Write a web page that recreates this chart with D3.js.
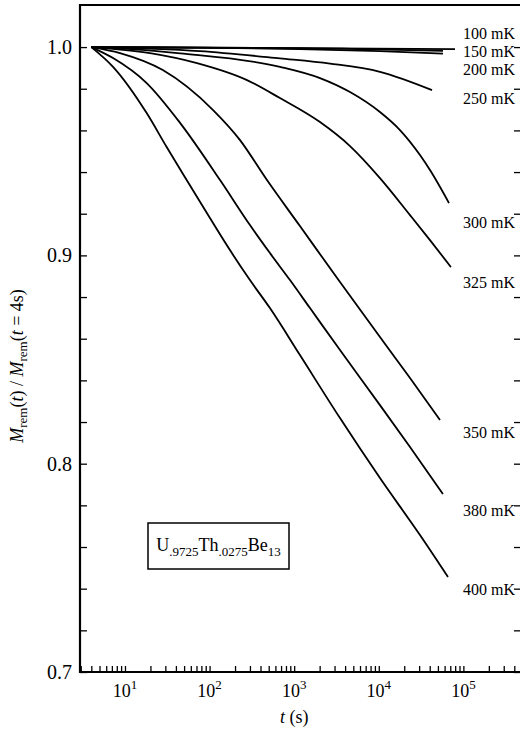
<!DOCTYPE html>
<html>
<head>
<meta charset="utf-8">
<script src="https://cdn.jsdelivr.net/npm/d3@7"></script>
<style>
  html, body { margin: 0; padding: 0; background: #fff; }
  svg { display: block; font-family: "Liberation Serif", "Times New Roman", serif; }
</style>
</head>
<body>
<svg id="chart" width="522" height="730"></svg>
<script>
// Remanent magnetisation relaxation of U(.9725)Th(.0275)Be13,
// normalised to its value at t = 4 s, for several temperatures.
const temperatures = ["100 mK", "150 mK", "200 mK", "250 mK", "300 mK", "325 mK", "350 mK", "380 mK", "400 mK"];

const time100 = [4, 79600];
const mrem100 = [1.0, 0.9990];

const time150 = [4, 1170, 57400];
const mrem150 = [1.0, 0.99952, 0.99818];

const time200 = [4, 77, 1170, 10330, 57400];
const mrem200 = [1.0, 0.99976, 0.99904, 0.99808, 0.99688];

const time250 = [4, 77, 679, 2650, 10330, 42600];
const mrem250 = [1.0, 0.99808, 0.99458, 0.99208, 0.98814, 0.97936];

const time300 = [4, 11.5, 45, 679, 2020, 4570, 10330, 17800, 30700, 40300, 67600];
const mrem300 = [1.0, 0.99904, 0.99698, 0.99054, 0.98512, 0.97840, 0.96880, 0.96015, 0.94815, 0.94095, 0.92511];

const time325 = [4, 19.75, 71, 277, 679, 2020, 4570, 10330, 23400, 40300, 71300];
const mrem325 = [1.0, 0.99712, 0.99232, 0.98416, 0.97552, 0.96399, 0.95247, 0.93711, 0.91935, 0.90735, 0.89438];

const time350 = [4, 8.73, 28, 110, 229, 477, 1170, 3480, 10330, 23400, 52900];
const mrem350 = [1.0, 0.99712, 0.98896, 0.96976, 0.95535, 0.93615, 0.91407, 0.88718, 0.86078, 0.84110, 0.82093];

const time380 = [4, 7.23, 18.05, 45, 133, 300, 517, 892, 1538, 3480, 10330, 23400, 57400];
const mrem380 = [1.0, 0.99472, 0.98272, 0.96351, 0.93615, 0.91455, 0.90110, 0.88814, 0.87470, 0.85454, 0.82813, 0.80797, 0.78541];

const time400 = [4, 7.27, 18.05, 31.1, 53.6, 101, 174, 300, 517, 1170, 3480, 10330, 30700, 65800];
const mrem400 = [1.0, 0.99040, 0.96831, 0.95199, 0.93615, 0.91791, 0.90254, 0.88814, 0.87470, 0.85214, 0.82189, 0.79309, 0.76572, 0.74556];

const yTickValues = [0.7, 0.8, 0.9, 1.0];
const yTickLabels = ["0.7", "0.8", "0.9", "1.0"];
const xDecades = [1, 2, 3, 4, 5];
const xDecadeLabels = ["1", "2", "3", "4", "5"];
const sampleName = [["U", ".9725"], ["Th", ".0275"], ["Be", "13"]];

const times = [time100, time150, time200, time250, time300, time325, time350, time380, time400];
const mrems = [mrem100, mrem150, mrem200, mrem250, mrem300, mrem325, mrem350, mrem380, mrem400];

(function draw() {
  const left = 80, right = 520, plotTop = 5, plotBottom = 672;
  const svg = d3.select("#chart");

  const x = d3.scaleLog().domain([2.94, 4.67e5]).range([left, right]);
  const y = d3.scaleLinear().domain([0.7, 1.0202]).range([plotBottom, plotTop]);

  // log ticks: every integer multiple inside each decade
  const xTicks = [];
  for (let d = 0; d <= 5; d++) {
    for (let k = 1; k <= 9; k++) {
      const v = k * Math.pow(10, d);
      if (v >= x.domain()[0] && v <= x.domain()[1]) xTicks.push(v);
    }
  }
  const yTicks = d3.range(35, 51).map(i => i / 50);

  const tickStyle = g => {
    g.select(".domain").remove();
    g.selectAll(".tick line").attr("stroke", "#000").attr("stroke-width", 1.3);
  };

  svg.append("g")
    .attr("transform", `translate(0,${plotBottom})`)
    .call(d3.axisBottom(x).tickValues(xTicks).tickSize(-6).tickFormat(""))
    .call(tickStyle);

  svg.append("g")
    .attr("transform", `translate(${left},0)`)
    .call(d3.axisLeft(y).tickValues(yTicks).tickSize(-7).tickFormat(""))
    .call(tickStyle);

  svg.append("g")
    .attr("transform", `translate(${right},0)`)
    .call(d3.axisRight(y).tickValues(yTicks).tickSize(-6).tickFormat(""))
    .call(tickStyle);

  // frame: top, left and bottom edges
  svg.append("path")
    .attr("d", `M${right},${plotTop}H${left}V${plotBottom}H${right}`)
    .attr("fill", "none")
    .attr("stroke", "#000")
    .attr("stroke-width", 2.2);

  // y tick labels
  svg.append("g").selectAll("text")
    .data(yTickValues)
    .join("text")
    .attr("x", left - 8)
    .attr("y", d => y(d) + 7)
    .attr("text-anchor", "end")
    .attr("font-size", 20)
    .text((d, i) => yTickLabels[i]);

  // x tick labels as powers of ten
  const xl = svg.append("g").selectAll("text")
    .data(xDecades)
    .join("text")
    .attr("x", d => x(Math.pow(10, d)))
    .attr("y", 697)
    .attr("text-anchor", "middle")
    .attr("font-size", 18);
  xl.append("tspan").text("10");
  xl.append("tspan").attr("font-size", 13).attr("dy", -8).text((d, i) => xDecadeLabels[i]);

  // axis titles
  const xt = svg.append("text")
    .attr("x", x(1e3))
    .attr("y", 723)
    .attr("text-anchor", "middle")
    .attr("font-size", 18);
  xt.append("tspan").attr("font-style", "italic").text("t");
  xt.append("tspan").text(" (s)");

  const yt = svg.append("text")
    .attr("transform", "translate(23,366) rotate(-90)")
    .attr("text-anchor", "middle")
    .attr("font-size", 18);
  yt.append("tspan").attr("font-style", "italic").text("M");
  yt.append("tspan").attr("font-size", 13).attr("dy", 4).text("rem");
  yt.append("tspan").attr("dy", -4).text("(");
  yt.append("tspan").attr("font-style", "italic").text("t");
  yt.append("tspan").text(") / ");
  yt.append("tspan").attr("font-style", "italic").text("M");
  yt.append("tspan").attr("font-size", 13).attr("dy", 4).text("rem");
  yt.append("tspan").attr("dy", -4).text("(");
  yt.append("tspan").attr("font-style", "italic").text("t");
  yt.append("tspan").text(" = 4s)");

  // relaxation curves
  const line = d3.line()
    .x(d => x(d[0]))
    .y(d => y(d[1]))
    .curve(d3.curveMonotoneX);

  const curves = temperatures.map((name, i) => ({
    name,
    points: times[i].map((t, j) => [t, mrems[i][j]])
  }));

  svg.append("g")
    .selectAll("path")
    .data(curves)
    .join("path")
    .attr("d", d => line(d.points))
    .attr("fill", "none")
    .attr("stroke", "#000")
    .attr("stroke-width", 1.8)
    .attr("stroke-linejoin", "round");

  // temperature labels, hung just below each curve's last point
  const labelDy = [-10.5, 6, 21.5, 13.5, 25, 21, 18, 22, 18];
  svg.append("g")
    .selectAll("text")
    .data(curves)
    .join("text")
    .attr("x", 515)
    .attr("y", (d, i) => y(d.points[d.points.length - 1][1]) + labelDy[i])
    .attr("text-anchor", "end")
    .attr("font-size", 16)
    .text(d => d.name);

  // sample composition box
  const box = svg.append("g");
  box.append("rect")
    .attr("x", 148).attr("y", 523)
    .attr("width", 141).attr("height", 46)
    .attr("fill", "#fff")
    .attr("stroke", "#000")
    .attr("stroke-width", 1.5);
  const st = box.append("text")
    .attr("x", 218.5)
    .attr("y", 551)
    .attr("text-anchor", "middle")
    .attr("font-size", 18);
  sampleName.forEach(([el, sub], i) => {
    st.append("tspan").attr("dy", i === 0 ? 0 : -5).text(el);
    st.append("tspan").attr("font-size", 13).attr("dy", 5).text(sub);
  });
})();
</script>
</body>
</html>
